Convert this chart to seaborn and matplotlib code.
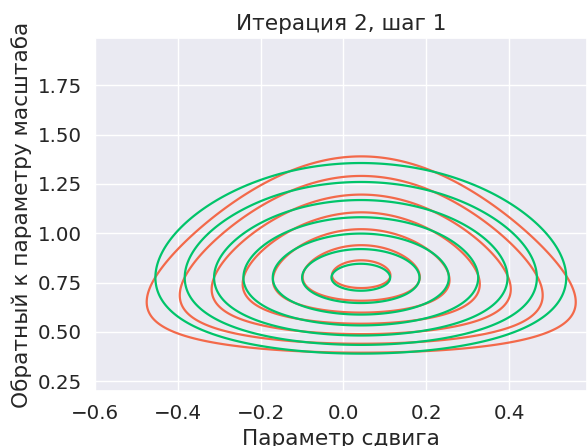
import math
import numpy as np
import matplotlib
matplotlib.use("Agg")
import matplotlib.pyplot as plt
import seaborn as sns

# параметры истинного апостериорного (нормальное-гамма)
post_mu = 0.043
post_kappa = 21.0
post_a = 10.9
post_b = 13.16

# параметры вариационного приближения q(mu) q(tau)
q_mu = 0.042
q_lambda = 16.4
q_a = 11.6
q_b = 13.68

# уровни линий: "радиусы" (в сигмах) от максимума плотности
level_radii = [0.287, 0.574, 0.861, 1.148, 1.435, 1.722, 2.009]

x_range = [-0.6, 0.6]
y_range = [0.2, 2.0]


def normal_gamma(mu, tau, m, kappa, a, b):
    log_p = (a * math.log(b) - math.lgamma(a) + 0.5 * math.log(kappa / (2 * math.pi))
             + (a - 0.5) * np.log(tau) - b * tau - 0.5 * kappa * tau * (mu - m) ** 2)
    return np.exp(log_p)


def normal_times_gamma(mu, tau, m, lam, a, b):
    log_n = 0.5 * math.log(lam / (2 * math.pi)) - 0.5 * lam * (mu - m) ** 2
    log_g = a * math.log(b) - math.lgamma(a) + (a - 1) * np.log(tau) - b * tau
    return np.exp(log_n + log_g)


def levels_for(z):
    # по возрастанию плотности
    return sorted(z.max() * np.exp(-np.array(level_radii) ** 2 / 2))


sns.set_theme(style="darkgrid", font_scale=1.3)

mu_grid = np.linspace(x_range[0], x_range[1], 500)
tau_grid = np.linspace(y_range[0], y_range[1], 500)
MU, TAU = np.meshgrid(mu_grid, tau_grid)

z_post = normal_gamma(MU, TAU, post_mu, post_kappa, post_a, post_b)
z_q = normal_times_gamma(MU, TAU, q_mu, q_lambda, q_a, q_b)

fig = plt.figure(figsize=(5.87, 4.46), dpi=100)
ax = fig.add_axes([0.1618, 0.1233, 0.838, 0.7915])

ax.contour(MU, TAU, z_post, levels=levels_for(z_post), colors="#f3694a", linewidths=1.6)
ax.contour(MU, TAU, z_q, levels=levels_for(z_q), colors="#00c46a", linewidths=1.6)

ax.set_xlim(-0.6, 0.588)
ax.set_ylim(0.2, 1.99)
ax.set_yticks([0.25, 0.5, 0.75, 1.0, 1.25, 1.5, 1.75])
ax.set_title("Итерация 2, шаг 1")
ax.set_xlabel("Параметр сдвига")
ax.set_ylabel("Обратный к параметру масштаба")

fig.savefig("out.png", dpi=100)
